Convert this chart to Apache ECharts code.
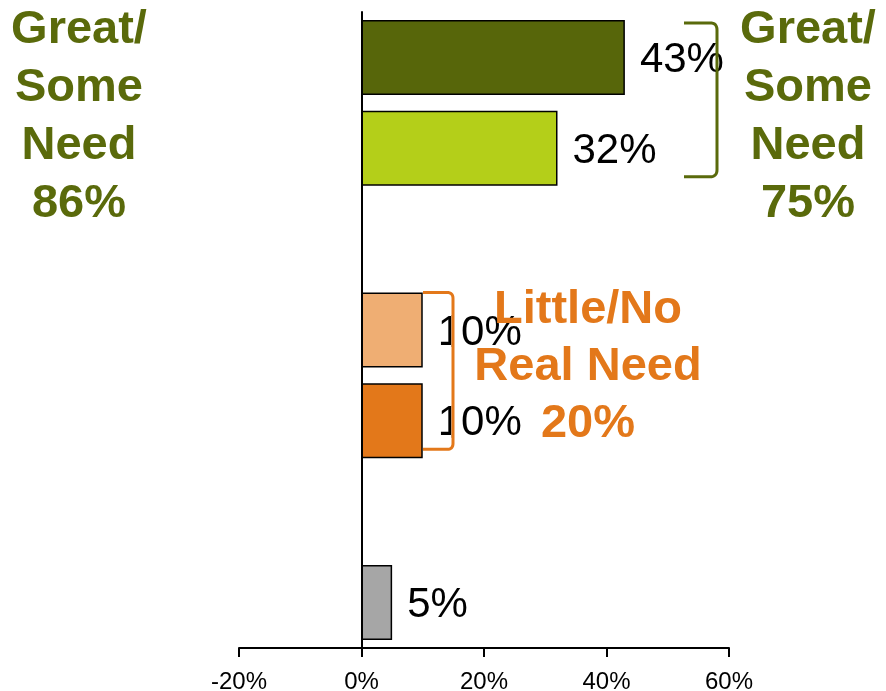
<!DOCTYPE html>
<html>
<head>
<meta charset="utf-8">
<script src="https://cdn.jsdelivr.net/npm/echarts@6/dist/echarts.min.js"></script>
<style>
html,body{margin:0;padding:0;background:#fff;}
#chart{width:886px;height:691px;}
</style>
</head>
<body>
<div id="chart"></div>
<script>
var categories = ['Great need', 'Some need', '', 'Little need', 'No real need', ' ', "Don't know"];
var values = [43, 32, null, 10, 10, null, 5];
var barColors = ['#57660A', '#B4CF19', '#fff', '#EFAE73', '#E3781A', '#fff', '#A6A6A6'];
var xTicks = [-20, 0, 20, 40, 60];
var groupLeft = ['Great/', 'Some', 'Need', '86%'];
var groupRight = ['Great/', 'Some', 'Need', '75%'];
var groupLittle = ['Little/No', 'Real Need', '20%'];

var FONT = 'Arial, "Liberation Sans", sans-serif';
var GREEN = '#5A6A0B';
var ORANGE = '#E3781A';

var chart = echarts.init(document.getElementById('chart'));
chart.setOption({
  animation: false,
  backgroundColor: '#fff',
  grid: {left: 239, right: 157, top: 12, bottom: 43, containLabel: false, outerBoundsMode: 'none'},
  xAxis: {
    type: 'value', min: xTicks[0], max: xTicks[xTicks.length - 1], interval: 20,
    axisLine: {show: true, lineStyle: {color: '#000', width: 2}},
    axisTick: {show: true, inside: false, length: 9, lineStyle: {color: '#000', width: 2}},
    splitLine: {show: false},
    axisLabel: {formatter: '{value}%', color: '#000', fontSize: 24, fontFamily: FONT, margin: 22}
  },
  yAxis: {
    type: 'category', data: categories, inverse: true,
    axisLine: {show: true, onZero: true, lineStyle: {color: '#000', width: 2}},
    axisTick: {show: false},
    axisLabel: {show: false}
  },
  series: [{
    type: 'bar',
    barWidth: 75,
    data: values.map(function (v, i) {
      return v === null ? '-' : {value: v, itemStyle: {color: barColors[i], borderColor: '#000', borderWidth: 1.5}};
    }),
    label: {
      show: true, position: 'right', distance: 15, offset: [0, 3],
      formatter: '{c}%', color: '#000', fontSize: 42, fontFamily: FONT
    }
  }]
});

function px(x, c) { return chart.convertToPixel({gridIndex: 0}, [x, c]); }
var p0 = px(0, 0), p1 = px(0, 1), p3 = px(0, 3), p4 = px(0, 4);
var half = 37.5;
var gx1 = 684, gx2 = 717, gy1 = p0[1] - half + 3, gy2 = p1[1] + half - 9;
var ox1 = 423, ox2 = 453, oy1 = p3[1] - half, oy2 = p4[1] + half - 9;
function corner(pts, ax, ay, cx, cy, bx, by) {
  for (var t = 0; t <= 1.0001; t += 0.125) {
    var u = 1 - t;
    pts.push([u * u * ax + 2 * u * t * cx + t * t * bx, u * u * ay + 2 * u * t * cy + t * t * by]);
  }
}
function bracket(x1, x2, y1, y2, r) {
  var pts = [[x1, y1]];
  corner(pts, x2 - r, y1, x2, y1, x2, y1 + r);
  corner(pts, x2, y2 - r, x2, y2, x2 - r, y2);
  pts.push([x1, y2]);
  return pts;
}
var graphics = [];
// small white masks with grey edge clipping the "1" of the 10% labels (as in the original)
[p3, p4].forEach(function (p) {
  graphics.push({type: 'rect', z: 90, shape: {x: 452, y: p[1] - 15, width: 8, height: 32},
    style: {fill: '#fff'}});
  graphics.push({type: 'line', z: 91, shape: {x1: 452, y1: p[1] - 15, x2: 452, y2: p[1] + 17},
    style: {stroke: '#A8A8A8', lineWidth: 2}});
});
graphics.push({type: 'polyline', z: 100, shape: {points: bracket(gx1, gx2, gy1, gy2, 7)},
  style: {fill: null, stroke: GREEN, lineWidth: 3}});
graphics.push({type: 'polyline', z: 100, shape: {points: bracket(ox1, ox2, oy1, oy2, 6)},
  style: {fill: null, stroke: ORANGE, lineWidth: 3}});
function addLines(lines, cx, cy0, step, color) {
  lines.forEach(function (t, i) {
    graphics.push({type: 'text', z: 110, x: cx, y: cy0 + i * step,
      style: {text: t, fill: color, font: 'bold 47px ' + FONT, textAlign: 'center', textVerticalAlign: 'middle'}});
  });
}
addLines(groupLeft, 79, 30, 58, GREEN);
addLines(groupRight, 808, 30, 58, GREEN);
addLines(groupLittle, 588, 310, 57, ORANGE);
chart.setOption({graphic: graphics});
</script>
</body>
</html>
